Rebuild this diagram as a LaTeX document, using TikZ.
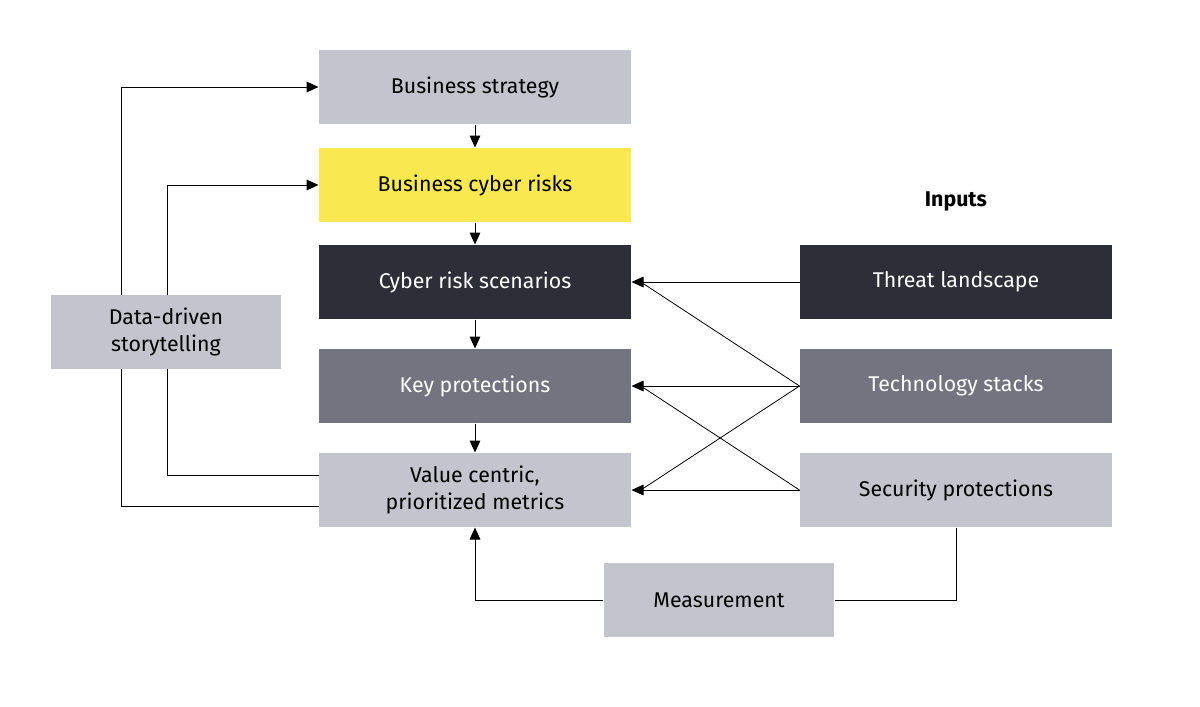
\documentclass[tikz,border=0pt]{standalone}
\usepackage{fontspec}
\setmainfont{Fira Sans}
\usetikzlibrary{arrows.meta}
\definecolor{lightbox}{RGB}{196,196,205}
\definecolor{midbox}{RGB}{116,116,128}
\definecolor{darkbox}{RGB}{46,46,56}
\definecolor{yellowbox}{RGB}{249,232,79}
\tikzset{every picture/.style={line width=0.75pt},
  box/.style={minimum width=234pt,minimum height=55.5pt,inner sep=0pt,align=center,font=\fontsize{16}{20}\selectfont},
  light/.style={box,fill=lightbox,text=black},
  mid/.style={box,fill=midbox,text=white},
  dark/.style={box,fill=darkbox,text=white},
  arr/.style={-{Triangle[length=9pt,width=8pt]}},
  thin arr/.style={line width=0.6pt}}
\begin{document}
\begin{tikzpicture}[x=0.75pt,y=0.75pt,yscale=-1,xscale=1]
\useasboundingbox (0,0) rectangle (1200,707);

% left column
\node[light] (strategy) at (475,87) {Business strategy};
\node[box,fill=yellowbox] (risks) at (475,185) {Business cyber risks};
\node[dark] (scen) at (475,282) {Cyber risk scenarios};
\node[mid] (keyp) at (475,386) {Key protections};
\node[light] (metrics) at (475,490) {Value centric,\\prioritized metrics};
% inputs
\node[font=\bfseries\fontsize{16}{20}\selectfont] (inputs) at (956,201) {Inputs};
\node[dark] (threat) at (956,282) {Threat landscape};
\node[mid] (tech) at (956,386) {Technology stacks};
\node[light] (secp) at (956,490) {Security protections};
\node[light,minimum width=173pt] (meas) at (719,600) {Measurement};
\node[light,minimum width=173pt] (story) at (166,332) {Data-driven\\storytelling};

% vertical chain
\draw[arr] (strategy) -- (risks);
\draw[arr] (risks) -- (scen);
\draw[arr] (scen) -- (keyp);
\draw[arr] (keyp) -- (metrics);

% inputs to left column
\coordinate (tS) at ([xshift=7]scen.east);
\coordinate (tK) at ([xshift=7]keyp.east);
\coordinate (tM) at ([xshift=7]metrics.east);
\draw[arr] (threat.west) -- (scen.east);
\draw[arr] (tech.west) -- (keyp.east);
\draw[arr] (secp.west) -- (metrics.east);
\draw[thin arr] (tech.west) -- (tS);
\draw[thin arr] (tech.west) -- (tM);
\draw[thin arr] (secp.west) -- (tK);

% measurement loop
\draw (secp.south) |- (meas.east);
\draw[arr] (meas.west) -| (metrics.south);

% storytelling loops
\draw ([yshift=12]metrics.west) -| (121,369);
\draw ([yshift=-11]metrics.west) -| (167,369);
\draw[arr] (121,295) |- (strategy.west);
\draw[arr] (167,295) |- (risks.west);
\end{tikzpicture}
\end{document}
